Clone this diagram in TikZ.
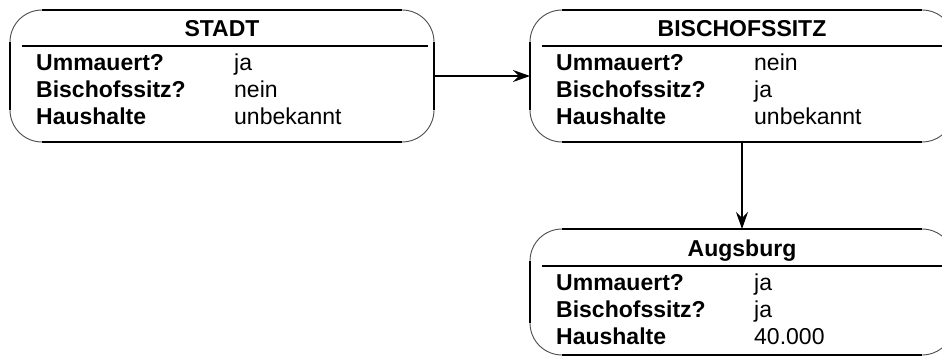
\documentclass[tikz,border=0pt]{standalone}
\usepackage{fontspec}
\setmainfont{Liberation Sans}
\usetikzlibrary{arrows.meta}
\newcommand\entitybox[8]{%
  \node[boxshape, minimum height=#4pt] (#1) at (#2,#3) {};
  \draw[arcline, rounded corners=32pt] (#2,#3) rectangle (#2+424,#3+#4);
  \draw[edgeline] (#2+32,#3) -- (#2+392,#3);
  \draw[edgeline] (#2+32,#3+#4) -- (#2+392,#3+#4);
  \draw[sideline] (#2,#3+32) -- (#2,#3+#4-32);
  \draw[sideline] (#2+424,#3+32) -- (#2+424,#3+#4-32);
  \draw[sepline] (#2+12,#3+36.5) -- (#2+418,#3+36.5);
  \node[ttl] (#1-t) at (#2+212,#3+27) {#5};
  \node[lab] (#1-l1) at (#2+26,#3+61) {Ummauert?};
  \node[lab] (#1-l2) at (#2+26,#3+88) {Bischofssitz?};
  \node[lab] (#1-l3) at (#2+26,#3+115) {Haushalte};
  \node[val] (#1-v1) at (#2+224,#3+61) {#6};
  \node[val] (#1-v2) at (#2+224,#3+88) {#7};
  \node[val] (#1-v3) at (#2+224,#3+115) {#8};
}
\begin{document}
\begin{tikzpicture}[x=1pt,y=-1pt,
  boxshape/.style={rectangle, minimum width=424pt, anchor=north west, inner sep=0pt, outer sep=0pt},
  arcline/.style={line width=0.9pt, draw=black!70},
  edgeline/.style={line width=2pt, draw=black},
  sideline/.style={line width=1.7pt, draw=black},
  sepline/.style={line width=2pt, draw=black},
  ttl/.style={anchor=base, inner sep=0pt, font=\fontsize{23}{27}\selectfont\bfseries},
  lab/.style={anchor=base west, inner sep=0pt, font=\fontsize{23}{27}\selectfont\bfseries},
  val/.style={anchor=base west, inner sep=0pt, font=\fontsize{23}{27}\selectfont},
  conn/.style={line width=1.3pt, -{Stealth[length=17pt, width=12pt, inset=6pt]}}
]
\useasboundingbox (0,0) rectangle (942,358);
\clip (0,0) rectangle (942,358);
\entitybox{stadt}{10}{10}{132}{STADT}{ja}{nein}{unbekannt}
\entitybox{bischof}{530}{10}{132}{BISCHOFSSITZ}{nein}{ja}{unbekannt}
\entitybox{augsburg}{530}{229}{126}{Augsburg}{ja}{ja}{40.000}
\draw[conn] (stadt.east) -- (bischof.west);
\draw[conn] (bischof.south) -- (augsburg.north);
\end{tikzpicture}
\end{document}
